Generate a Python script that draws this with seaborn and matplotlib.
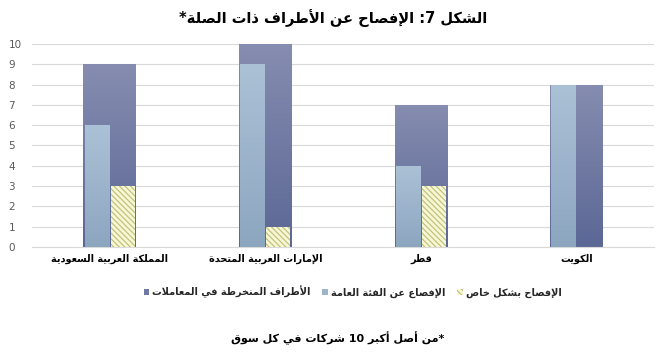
import re
import numpy as np
import pandas as pd
import matplotlib
matplotlib.use("Agg")
import matplotlib.pyplot as plt
import seaborn as sns
from matplotlib.patches import Patch
from matplotlib.colors import LinearSegmentedColormap

# ---------------- data ----------------
countries = ["المملكة العربية السعودية", "الإمارات العربية المتحدة", "قطر", "الكويت"]
involved = [9, 10, 7, 8]      # الأطراف المنخرطة في المعاملات
public = [6, 9, 4, 8]         # الإفصاح عن الفئة العامة
private = [3, 1, 3, 0]        # الإفصاح بشكل خاص
series_names = ["الأطراف المنخرطة في المعاملات", "الإفصاع عن الفئة العامة", "الإفصاح بشكل خاص"]
title = "الشكل 7: الإفصاح عن الأطراف ذات الصلة*"
footnote = "*من أصل أكبر 10 شركات في كل سوق"
yticks = list(range(0, 11))

# ------------- minimal Arabic shaping + RTL ordering -------------
DUAL = {'ئ': 0xFE89, 'ب': 0xFE8F, 'ت': 0xFE95, 'ث': 0xFE99, 'ج': 0xFE9D, 'ح': 0xFEA1,
        'خ': 0xFEA5, 'س': 0xFEB1, 'ش': 0xFEB5, 'ص': 0xFEB9, 'ض': 0xFEBD, 'ط': 0xFEC1,
        'ظ': 0xFEC5, 'ع': 0xFEC9, 'غ': 0xFECD, 'ف': 0xFED1, 'ق': 0xFED5, 'ك': 0xFED9,
        'ل': 0xFEDD, 'م': 0xFEE1, 'ن': 0xFEE5, 'ه': 0xFEE9, 'ي': 0xFEF1}
RIGHT = {'آ': 0xFE81, 'أ': 0xFE83, 'ؤ': 0xFE85, 'إ': 0xFE87, 'ا': 0xFE8D, 'ة': 0xFE93,
         'د': 0xFEA9, 'ذ': 0xFEAB, 'ر': 0xFEAD, 'ز': 0xFEAF, 'و': 0xFEED, 'ى': 0xFEEF}
LAMALEF = {'آ': 0xFEF5, 'أ': 0xFEF7, 'إ': 0xFEF9, 'ا': 0xFEFB}
NONJ = {'ء': 0xFE80}


def shape(text):
    toks = []
    i = 0
    while i < len(text):
        c = text[i]
        if c == 'ل' and i + 1 < len(text) and text[i + 1] in LAMALEF:
            toks.append((LAMALEF[text[i + 1]], 'R'))
            i += 2
            continue
        if c in DUAL:
            toks.append((DUAL[c], 'D'))
        elif c in RIGHT:
            toks.append((RIGHT[c], 'R'))
        elif c in NONJ:
            toks.append((NONJ[c], 'U'))
        else:
            toks.append((c, 'X'))
        i += 1
    out = []
    for j, (b, k) in enumerate(toks):
        if k == 'X':
            out.append(b)
            continue
        if k == 'U':
            out.append(chr(b))
            continue
        prev = j > 0 and toks[j - 1][1] == 'D'
        nxt = k == 'D' and j + 1 < len(toks) and toks[j + 1][1] in ('D', 'R')
        if k == 'R':
            off = 1 if prev else 0
        else:
            off = 3 if (prev and nxt) else 1 if prev else 2 if nxt else 0
        out.append(chr(b + off))
    s = ''.join(out)
    parts = re.findall(r'[0-9]+|.', s)
    return ''.join(reversed(parts))


# ---------------- style ----------------
c_inv_top, c_inv_bot = "#868db0", "#5b6795"
c_pub_top, c_pub_bot = "#abc1d6", "#8da6c0"
c_inv, c_pub = "#6f79a1", "#9db4cb"
c_priv_face, c_priv_hatch = "#f7f7d6", "#c2c27e"

sns.set_theme(style="white")
plt.rcParams["font.family"] = ["DejaVu Sans"]
plt.rcParams["hatch.linewidth"] = 0.9

fig = plt.figure(figsize=(6.69, 3.54), dpi=100)
ax = fig.add_axes([0.048, 0.302, 0.930, 0.574])

labels = [shape(c) for c in countries]
s_names = [shape(s) for s in series_names]

df_wide = pd.DataFrame({"country": labels, "value": involved})
sns.barplot(data=df_wide, x="country", y="value", color=c_inv, width=0.34,
            saturation=1, ax=ax, zorder=2, linewidth=0)
wide_patches = list(ax.patches)

df_in = pd.DataFrame({"country": labels * 2,
                      "series": [s_names[1]] * 4 + [s_names[2]] * 4,
                      "value": public + private})
sns.barplot(data=df_in, x="country", y="value", hue="series",
            palette=[c_pub, c_priv_face], width=0.33, gap=0.05, saturation=1,
            ax=ax, zorder=3, legend=False, linewidth=0)
inner = [p for p in ax.patches if p not in wide_patches]
pub_patches = inner[:4]
priv_patches = inner[4:]

for p in priv_patches:
    p.set_hatch("\\\\\\\\\\\\")
    p.set_edgecolor(c_priv_hatch)
    p.set_linewidth(0)


def gradient(patch, top, bottom, z):
    h = patch.get_height()
    if h <= 0:
        return
    x0, y0, w = patch.get_x(), patch.get_y(), patch.get_width()
    cmap = LinearSegmentedColormap.from_list("g", [bottom, top])
    arr = np.linspace(0, 1, 256).reshape(-1, 1)
    im = ax.imshow(arr, extent=[x0, x0 + w, y0, y0 + h], origin="lower",
                   aspect="auto", cmap=cmap, zorder=z, interpolation="bilinear")
    im.set_clip_path(patch)


for p in wide_patches:
    gradient(p, c_inv_top, c_inv_bot, 2.1)
for p in pub_patches:
    gradient(p, c_pub_top, c_pub_bot, 3.1)

ax.set_xlim(-0.5, 3.5)
ax.set_ylim(0, 10)
ax.set_yticks(yticks)
ax.yaxis.grid(True, color="#d9d9d9", linewidth=0.8)
ax.set_axisbelow(True)
for s in ["top", "right", "left"]:
    ax.spines[s].set_visible(False)
ax.spines["bottom"].set_color("#d9d9d9")
ax.spines["bottom"].set_linewidth(0.8)
ax.set_xlabel("")
ax.set_ylabel("")
ax.tick_params(axis="y", length=0, labelsize=7.5, labelcolor="#595959")
ax.tick_params(axis="x", length=0, labelsize=7, labelcolor="black", pad=5)
for t in ax.get_xticklabels():
    t.set_fontweight("bold")
for t in ax.get_yticklabels():
    t.set_horizontalalignment("left")
ax.yaxis.set_tick_params(pad=17)

fig.text(0.498, 0.949, shape(title), ha="center", va="center",
         fontsize=10.5, fontweight="bold", color="black")

handles = [Patch(facecolor=c_inv, linewidth=0),
           Patch(facecolor=c_pub, linewidth=0),
           Patch(facecolor=c_priv_face, hatch="\\\\\\\\\\\\", edgecolor=c_priv_hatch, linewidth=0)]
fig.legend(handles, s_names, loc="center", bbox_to_anchor=(0.527, 0.175), ncol=3,
           frameon=False, prop={"size": 7, "weight": "bold"}, handlelength=0.6,
           handleheight=0.6, handletextpad=0.3, columnspacing=1.2)

fig.text(0.505, 0.045, shape(footnote), ha="center", va="center",
         fontsize=8, fontweight="bold", color="black")

fig.savefig("out.png", dpi=100)
